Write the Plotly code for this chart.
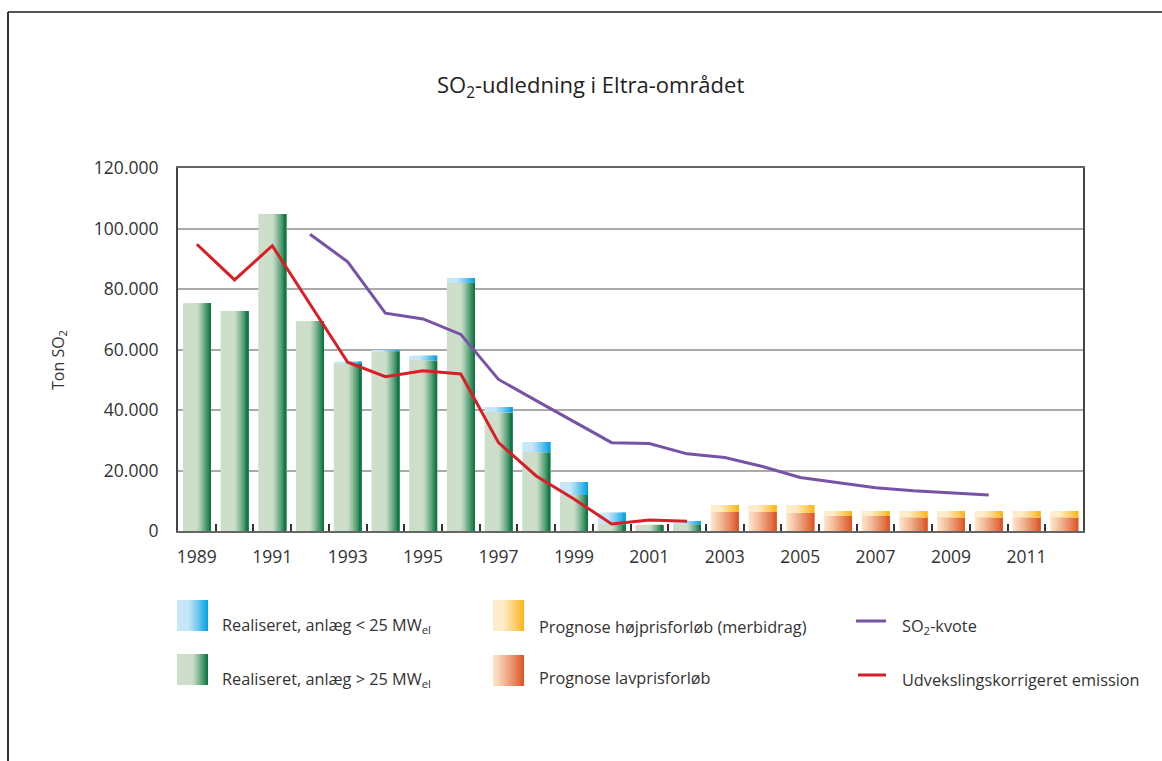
import plotly.graph_objects as go

# ---- data -------------------------------------------------------------
years = list(range(1989, 2013))
tick_years = list(range(1989, 2012, 2))
tick_labels = [str(y) for y in tick_years]

realised_years = list(range(1989, 2003))
# Realiseret, anlæg > 25 MWel (ton SO2)
large_plants = [75300, 72700, 104800, 69400, 55400, 59200, 56500, 82100,
                39300, 26100, 11900, 2300, 2000, 2300]
# Realiseret, anlæg < 25 MWel (stacked on top of the large plants)
small_plants = [0, 0, 0, 0, 500, 600, 1400, 1500,
                1700, 3300, 4300, 3700, 0, 1000]

forecast_years = list(range(2003, 2013))
# Prognose lavprisforløb
low_price = [6300, 6300, 6100, 5000, 5000, 4600, 4600, 4600, 4600, 4600]
# Prognose højprisforløb (merbidrag on top of the low-price forecast)
high_price_extra = [2300, 2300, 2500, 1600, 1600, 2000, 2000, 2000, 2000, 2000]

quota_years = list(range(1992, 2011))
# SO2-kvote
quota = [98100, 89000, 72000, 70100, 65000, 50100, 43100, 36100, 29200,
         28900, 25500, 24300, 21300, 17700, 16100, 14300, 13300, 12700, 11900]

# Udvekslingskorrigeret emission
exchange_years = list(range(1989, 2003))
exchange_corrected = [94800, 83000, 94300, 75000, 55800, 51000, 53000, 51900,
                      29200, 18200, 10600, 2300, 3600, 3200]

# ---- styling ----------------------------------------------------------
FONT = "Open Sans"
TEXT = "#333333"
RED = "#d81e26"
PURPLE = "#7753a6"

GREEN = ("#cddfca", "#00703a", 0.50)
BLUE = ("#c6e7f8", "#00a0e2", 0.35)
ORANGE = ("#fde5ca", "#dc5425", 0.0)
YELLOW = ("#fdedcb", "#fbb512", 0.30)

N_STRIPS = 16
BAR_W = 0.74

# pixel frame of the plot area
W, H = 1162, 761
L, R, T, B = 178, 1083, 168, 531


def hex_rgb(h):
    h = h.lstrip("#")
    return tuple(int(h[i:i + 2], 16) for i in (0, 2, 4))


def ramp(spec, t):
    light, dark, knee = spec
    a, b = hex_rgb(light), hex_rgb(dark)
    f = 0.0 if t <= knee else ((t - knee) / (1 - knee)) ** 1.15
    c = [round(a[i] + (b[i] - a[i]) * f) for i in range(3)]
    return "rgb(%d,%d,%d)" % tuple(c)


fig = go.Figure()


def gradient_bars(x, y, spec, base=None):
    # each strip reaches the right edge of the bar; later strips cover
    # the earlier ones, which gives a seamless left-to-right gradient
    step = BAR_W / N_STRIPS
    for i in range(N_STRIPS):
        off = -BAR_W / 2 + i * step
        fig.add_bar(
            x=x, y=y, base=base,
            offset=off, width=BAR_W / 2 - off,
            marker=dict(color=ramp(spec, (i + 0.5) / N_STRIPS), line_width=0),
            showlegend=False, hoverinfo="skip",
        )


gradient_bars(realised_years, large_plants, GREEN)
gradient_bars(realised_years, small_plants, BLUE, base=large_plants)
gradient_bars(forecast_years, low_price, ORANGE)
gradient_bars(forecast_years, high_price_extra, YELLOW, base=low_price)

fig.add_scatter(x=quota_years, y=quota, mode="lines",
                line=dict(color=PURPLE, width=3), showlegend=False,
                name="SO2-kvote")
fig.add_scatter(x=exchange_years, y=exchange_corrected, mode="lines",
                line=dict(color=RED, width=3), showlegend=False,
                name="Udvekslingskorrigeret emission")


# ---- helpers for paper coordinates from pixel positions ----------------
def px(xp):
    return (xp - L) / (R - L)


def py(yp):
    return (B - yp) / (B - T)


shapes = []
annotations = []

# outer frame (top and left edges)
shapes.append(dict(type="line", xref="paper", yref="paper",
                   x0=px(8), x1=px(1162), y0=py(12), y1=py(12),
                   line=dict(color="#555555", width=2)))
shapes.append(dict(type="line", xref="paper", yref="paper",
                   x0=px(8), x1=px(8), y0=py(12), y1=py(761),
                   line=dict(color="#333333", width=2)))


def swatch(x0, y0, size, spec):
    n = 16
    step = size / n
    for i in range(n):
        shapes.append(dict(type="rect", xref="paper", yref="paper",
                           x0=px(x0 + i * step), x1=px(x0 + size),
                           y0=py(y0), y1=py(y0 + size),
                           fillcolor=ramp(spec, (i + 0.5) / n),
                           line=dict(width=0), layer="above"))


def legend_text(x, y, text):
    annotations.append(dict(xref="paper", yref="paper", x=px(x), y=py(y),
                            text=text, showarrow=False, xanchor="left",
                            yanchor="middle",
                            font=dict(family=FONT, size=16.3, color=TEXT)))


swatch(177, 600, 31, BLUE)
legend_text(220, 625, "Realiseret, anlæg &lt; 25 MW<sub>el</sub>")
swatch(177, 654, 31, GREEN)
legend_text(220, 679, "Realiseret, anlæg &gt; 25 MW<sub>el</sub>")
swatch(493, 600, 31, YELLOW)
legend_text(537, 627, "Prognose højprisforløb (merbidrag)")
swatch(493, 655, 31, ORANGE)
legend_text(537, 678, "Prognose lavprisforløb")

shapes.append(dict(type="line", xref="paper", yref="paper",
                   x0=px(856), x1=px(886), y0=py(621), y1=py(621),
                   line=dict(color=PURPLE, width=3)))
legend_text(900, 626, "SO<sub>2</sub>-kvote")
shapes.append(dict(type="line", xref="paper", yref="paper",
                   x0=px(858), x1=px(886), y0=py(675), y1=py(675),
                   line=dict(color=RED, width=3)))
legend_text(900, 680, "Udvekslingskorrigeret emission")

# title and y-axis title
annotations.append(dict(xref="paper", yref="paper", x=px(590), y=py(86),
                        text="SO<sub>2</sub>-udledning i Eltra-området",
                        showarrow=False, xanchor="center", yanchor="middle",
                        font=dict(family=FONT, size=22, color="#222222")))
annotations.append(dict(xref="paper", yref="paper", x=px(58), y=py(360),
                        text="Ton SO<sub>2</sub>", textangle=-90,
                        showarrow=False, xanchor="center", yanchor="middle",
                        font=dict(family=FONT, size=16, color=TEXT)))

fig.update_layout(
    width=W, height=H,
    margin=dict(l=L, r=W - R, t=T, b=H - B, pad=0),
    paper_bgcolor="white", plot_bgcolor="white",
    barmode="overlay",
    separators=",.",
    font=dict(family=FONT, color=TEXT),
    shapes=shapes, annotations=annotations,
    showlegend=False,
)

fig.update_xaxes(
    range=[1988.5, 2012.5],
    tickmode="array", tickvals=tick_years, ticktext=tick_labels,
    ticks="", showgrid=False, zeroline=False,
    tickfont=dict(family=FONT, size=17.5, color=TEXT),
    ticklabelstandoff=9,
    showline=True, linecolor="#666666", linewidth=2, mirror=True,
    minor=dict(tickmode="array", tickvals=[y + 0.5 for y in years[:-1]],
               ticks="inside", ticklen=7, tickwidth=1.5, tickcolor="#333333",
               showgrid=False),
)
fig.update_yaxes(
    range=[0, 120000],
    tickmode="array", tickvals=list(range(0, 120001, 20000)),
    tickformat=",d",
    ticks="", showgrid=True, gridcolor="#aaaaaa", gridwidth=2,
    zeroline=False,
    tickfont=dict(family=FONT, size=17.5, color=TEXT),
    ticklabelstandoff=14,
    showline=True, linecolor="#444444", linewidth=2, mirror=True,
)

fig.write_html("out.html")
